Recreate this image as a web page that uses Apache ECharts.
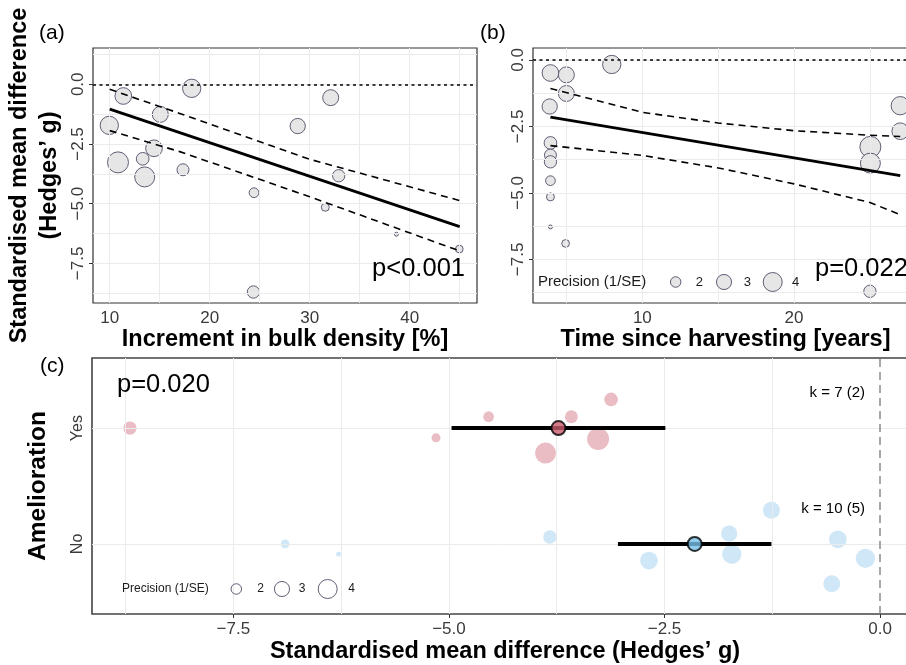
<!DOCTYPE html>
<html>
<head>
<meta charset="utf-8">
<script src="https://cdn.jsdelivr.net/npm/echarts@6/dist/echarts.min.js"></script>
<style>
html,body{margin:0;padding:0;background:#fff;}
#c{width:906px;height:665px;}
</style>
</head>
<body>
<div id="c"></div>
<script>
// ---------------- data ----------------
// standardised mean differences (Hedges' g) of the 17 effect sizes
const effect = [-0.17,-0.49,-0.56,-1.26,-1.72,-1.75,-2.68,-3.27,-3.12,-3.88,-3.58,-3.83,-4.54,-5.15,-6.28,-6.9,-8.7];
// precision (1/SE) of each effect size
const precision = [3.81,3.39,3.21,3.21,3.81,3.04,3.39,4.57,2.45,4.28,2.30,2.37,1.85,1.54,0.93,1.49,2.37];
// (a) increment in bulk density [%]
const bulkIncrement = [18.2,11.36,32.1,15.06,9.96,28.8,14.43,10.83,13.3,13.5,17.33,32.9,24.43,31.56,38.67,44.96,24.37];
// (b) time since harvesting [years]
const yearsSince = [7.98,3.94,4.99,4.99,27.0,3.89,27.0,25.03,3.94,25.03,3.94,3.94,3.94,3.94,3.94,4.94,25.0];
// (c) amelioration group and vertical jitter of each point
const amelioration = ['No','No','No','No','No','No','No','Yes','Yes','Yes','Yes','No','Yes','Yes','No','No','Yes'];
const jitter = [-0.124,0.04,-0.343,0.291,-0.089,0.089,-0.144,-0.095,0.247,-0.216,0.098,0.06,0.098,-0.084,-0.089,0,0];

// meta-regression fits and confidence bounds
const fitA = [[10,-1.04],[45,-5.96]];
const ciUpA = [[10,-0.21],[17,-1.22],[30,-3.14],[45,-4.87]];
const ciLoA = [[10,-1.94],[17,-2.82],[30,-4.71],[45,-6.98]];
const fitB = [[3.94,-2.15],[27,-4.35]];
const ciUpB = [[3.94,-1.07],[10,-1.97],[15,-2.37],[20,-2.66],[25,-2.83],[27,-2.88]];
const ciLoB = [[3.94,-3.22],[10,-3.59],[15,-4.06],[20,-4.66],[25,-5.36],[27,-5.82]];

// (c) group summaries
const levels = ['No','Yes'];
const groupMean = [-2.15,-3.73];
const groupLow = [-3.04,-4.97];
const groupHigh = [-1.26,-2.49];
const kLabels = ['k = 10 (5)','k = 7 (2)'];
const pLabels = ['p<0.001','p=0.022','p=0.020'];

// ticks and grid lines
const bulkTicks = [10,20,30,40];
const bulkGrid = [10,15,20,25,30,35,40,45];
const yearTicks = [10,20];
const yearGrid = [5,10,15,20,25];
const gTicks = [0,-2.5,-5,-7.5];
const gGrid = [1.25,0,-1.25,-2.5,-3.75,-5,-6.25,-7.5,-8.75];
const smdTicks = [-7.5,-5,-2.5,0];
const smdGrid = [-8.75,-7.5,-6.25,-5,-3.75,-2.5,-1.25];
const levelTicks = [1,2];
const legendPrecision = [2,3,4];

// ---------------- styling helpers ----------------
const FONT = '"Liberation Sans", Arial, Helvetica, sans-serif';
const TICK_COLOR = '#3a3a3a';
function sz(p){ return 14.5*Math.sqrt(p) - 10; }
function fmt(v){ return (v===0?'0.0':v.toFixed(1)).replace('-', '\u2212'); }

function gridSeries(idx, xs, ys, anchor){
  return {
    type:'line', xAxisIndex:idx, yAxisIndex:idx, data:[anchor], symbol:'none', silent:true, z:1,
    lineStyle:{opacity:0},
    markLine:{silent:true, symbol:'none', animation:false, label:{show:false},
      lineStyle:{color:'#ebebeb', width:1, type:'solid'},
      data: xs.map(v=>({xAxis:v})).concat(ys.map(v=>({yAxis:v})))}
  };
}
function refLine(idx, spec, style, anchor){
  return {
    type:'line', xAxisIndex:idx, yAxisIndex:idx, data:[anchor], symbol:'none', silent:true, z:2,
    lineStyle:{opacity:0},
    markLine:{silent:true, symbol:'none', animation:false, label:{show:false}, lineStyle:style, data:[spec]}
  };
}
function lineSeries(idx, data, width, type){
  return {type:'line', xAxisIndex:idx, yAxisIndex:idx, data:data, symbol:'none', silent:true, z:5,
    lineStyle:{color:'#000', width:width, type:type}};
}
function valueAxis(idx, min, max, ticks, extra){
  return Object.assign({
    type:'value', gridIndex:idx, min:min, max:max,
    axisLine:{show:false},
    axisTick:{show:true, customValues:ticks, length:4, lineStyle:{color:'#333', width:1}},
    axisLabel:{customValues:ticks, color:TICK_COLOR, fontSize:17, fontFamily:FONT, margin:7},
    splitLine:{show:false}
  }, extra||{});
}

// ---------------- series ----------------
const series = [];
series.push(gridSeries(0, bulkGrid, gGrid, [20,-3]));
series.push(gridSeries(1, yearGrid, gGrid, [10,-3]));
series.push(gridSeries(2, smdGrid, levelTicks, [-3,1.5]));
series.push(refLine(0, {yAxis:0}, {color:'#000', width:1.5, type:[3,3.5]}, [20,-3]));
series.push(refLine(1, {yAxis:0}, {color:'#000', width:1.5, type:[3,3.5]}, [10,-3]));
series.push(refLine(2, {xAxis:0}, {color:'#8a8a8a', width:1.5, type:[8,5]}, [-3,1.5]));

// (a) points
series.push({type:'scatter', xAxisIndex:0, yAxisIndex:0, z:3,
  data: effect.map((g,i)=>[bulkIncrement[i], g, precision[i]]),
  symbolSize: d=>sz(d[2]),
  itemStyle:{color:'#e6e6e6', borderColor:'#514d66', borderWidth:0.9, opacity:1}});
series.push(lineSeries(0, fitA, 2.8, 'solid'));
series.push(lineSeries(0, ciUpA, 1.6, [7,5]));
series.push(lineSeries(0, ciLoA, 1.6, [7,5]));

// (b) points
series.push({type:'scatter', xAxisIndex:1, yAxisIndex:1, z:3,
  data: effect.map((g,i)=>[yearsSince[i], g, precision[i]]),
  symbolSize: d=>sz(d[2]),
  itemStyle:{color:'#e6e6e6', borderColor:'#514d66', borderWidth:0.9, opacity:1}});
series.push(lineSeries(1, fitB, 2.8, 'solid'));
series.push(lineSeries(1, ciUpB, 1.6, [7,5]));
series.push(lineSeries(1, ciLoB, 1.6, [7,5]));

// (c) points by group
const groupColor = {No:'rgba(135,195,235,0.5)', Yes:'rgba(200,90,105,0.5)'};
const summaryColor = {No:'#78c0ea', Yes:'#cc5c6f'};
levels.forEach((lv, li)=>{
  const data = [];
  effect.forEach((g,i)=>{ if(amelioration[i]===lv) data.push([g, (li+1)+jitter[i], precision[i]]); });
  series.push({type:'scatter', xAxisIndex:2, yAxisIndex:2, z:3, data:data,
    symbolSize: d=>sz(d[2])+1,
    itemStyle:{color:groupColor[lv], borderWidth:0}});
});
levels.forEach((lv, li)=>{
  series.push({type:'line', xAxisIndex:2, yAxisIndex:2, z:5, symbol:'none', silent:true,
    data:[[groupLow[li], li+1],[groupHigh[li], li+1]],
    lineStyle:{color:'#000', width:4}});
  series.push({type:'scatter', xAxisIndex:2, yAxisIndex:2, z:6, data:[[groupMean[li], li+1]],
    symbolSize:14, itemStyle:{color:summaryColor[lv], borderColor:'#000', borderWidth:2}});
});

// ---------------- graphic texts / legends ----------------
const graphic = [];
function txt(x,y,t,size,opts){
  graphic.push(Object.assign({type:'text', x:x, y:y, silent:true, z:20,
    style:Object.assign({text:t, fontSize:size, fontFamily:FONT, fill:'#000', verticalAlign:'middle', align:'left'}, (opts||{}))}));
}
txt(39,33,'(a)',21);
txt(480,33,'(b)',21);
txt(40,366,'(c)',21);
txt(465,269,pLabels[0],25.5,{align:'right'});
txt(815,269,pLabels[1],25.5);
txt(117,385,pLabels[2],25.5);
txt(865,393,kLabels[1],15,{align:'right'});
txt(865,509,kLabels[0],15,{align:'right'});

function legend(x0, y0, fontSize, labelSize, circleX, labelX, fill, stroke){
  txt(x0, y0, 'Precision (1/SE)', fontSize, {fill:'#1a1a1a'});
  legendPrecision.forEach((p,i)=>{
    graphic.push({type:'circle', silent:true, z:20, shape:{cx:circleX[i], cy:y0, r:sz(p)/2},
      style:{fill:fill, stroke:stroke, lineWidth:0.9}});
    txt(labelX[i], y0, String(p), labelSize, {align:'center', fill:'#1a1a1a'});
  });
}
legend(538, 282, 15, 13, [675.7,724,772.7], [699.3,747.3,795.7], '#e6e6e6', '#514d66');
legend(122, 589, 12, 12, [236.3,282,327.7], [260.7,302,351.7], 'rgba(255,255,255,0)', '#514d66');

// ---------------- option ----------------
const nameStyle = {fontSize:23.5, fontWeight:'bold', fontFamily:FONT, color:'#000'};
const gridBase = {show:true, backgroundColor:'#fff', outerBoundsMode:'none', containLabel:false};
const option = {
  animation:false,
  backgroundColor:'#fff',
  grid:[
    Object.assign({left:93, top:48, width:384, height:255, borderColor:'#333', borderWidth:1.2}, gridBase),
    Object.assign({left:533, top:48, width:385, height:255, borderColor:'#333', borderWidth:1.2}, gridBase),
    Object.assign({left:92, top:358, width:826, height:256, borderColor:'#444', borderWidth:1.6}, gridBase)
  ],
  xAxis:[
    valueAxis(0, 8.33, 46.73, bulkTicks, {name:'Increment in bulk density [%]', nameLocation:'middle', nameGap:23, nameTextStyle:nameStyle}),
    valueAxis(1, 2.79, 28.17, yearTicks, {name:'Time since harvesting [years]', nameLocation:'middle', nameGap:23, nameTextStyle:nameStyle}),
    valueAxis(2, -9.14, 0.44, smdTicks, {name:"Standardised mean difference (Hedges\u2019 g)", nameLocation:'middle', nameGap:26, nameTextStyle:nameStyle,
      axisLabel:{customValues:smdTicks, color:TICK_COLOR, fontSize:17, fontFamily:FONT, margin:7, formatter:fmt}})
  ],
  yAxis:[
    valueAxis(0, -9.16, 1.52, gTicks, {name:"Standardised mean difference\n(Hedges\u2019 g)", nameLocation:'middle', nameGap:28,
      nameTextStyle:Object.assign({}, nameStyle, {lineHeight:30}),
      axisLabel:{customValues:gTicks, color:TICK_COLOR, fontSize:17, fontFamily:FONT, margin:6, rotate:90, formatter:fmt}}),
    valueAxis(1, -9.14, 0.45, gTicks, {
      axisLabel:{customValues:gTicks, color:TICK_COLOR, fontSize:17, fontFamily:FONT, margin:6, rotate:90, formatter:fmt}}),
    valueAxis(2, 0.395, 2.605, levelTicks, {name:'Amelioration', nameLocation:'middle', nameGap:41,
      nameTextStyle:Object.assign({}, nameStyle, {fontSize:24.5}),
      axisLabel:{customValues:levelTicks, color:TICK_COLOR, fontSize:16, fontFamily:FONT, margin:6, rotate:90,
        formatter:v=>levels[Math.round(v)-1]}})
  ],
  series:series,
  graphic:graphic
};
const chart = echarts.init(document.getElementById('c'), null, {renderer:'canvas'});
chart.setOption(option);
</script>
</body>
</html>
